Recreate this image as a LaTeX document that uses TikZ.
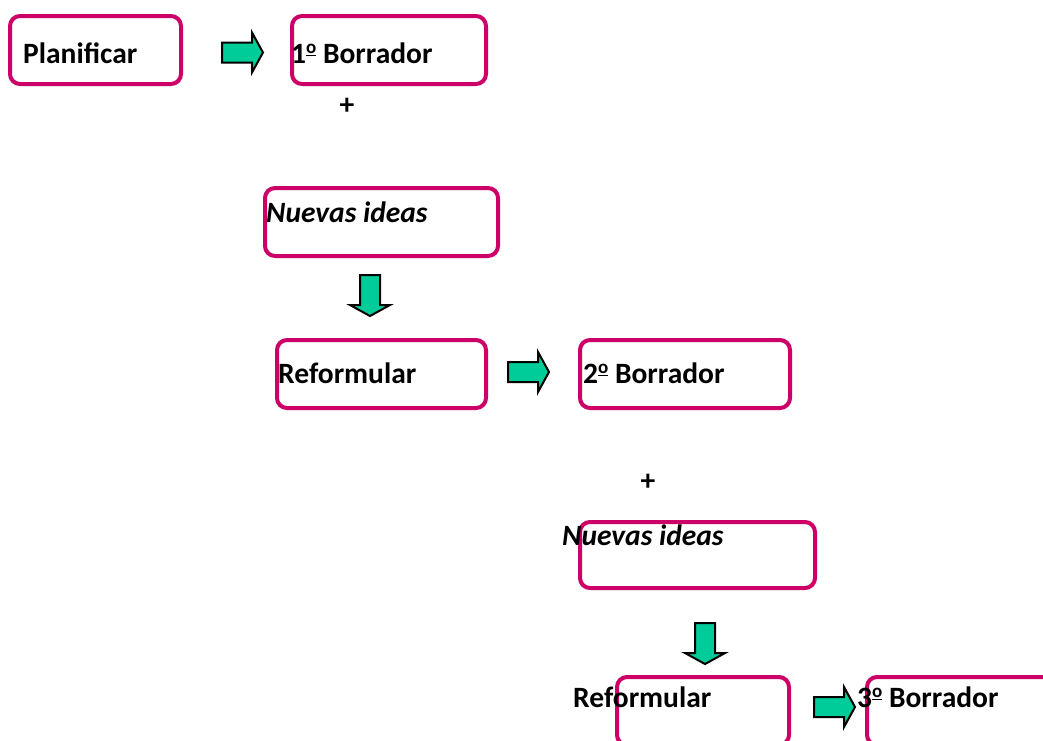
\documentclass[tikz,border=0pt]{standalone}
\usepackage{fontspec}
\setmainfont{Carlito}
\definecolor{boxpink}{RGB}{204,0,102}
\definecolor{arrowgreen}{RGB}{0,204,153}
\newcommand{\ordo}{\raisebox{0.33em}{\fontsize{19}{19}\selectfont\bfseries\underline{o}}}
\begin{document}
\begin{tikzpicture}[x=1pt,y=-1pt,
                    box/.style = {draw=boxpink,line width=4pt,rounded corners=10pt,minimum height=68pt,inner sep=0pt,outer sep=0pt,anchor=north west},
                    word/.style = {font=\fontsize{29.5}{34}\selectfont\bfseries,anchor=base west,inner sep=0pt},
                    blockarrow/.pic = {\filldraw[fill=arrowgreen,draw=black,line width=2pt] (0,-10) -- (30,-10) -- (30,-20) -- (41,0) -- (30,20) -- (30,10) -- (0,10) -- cycle;}]
                    \useasboundingbox (0,0) rectangle (1043,740);

                    \node[box,minimum width=171pt] (plan) at (10,16) {};
                    \node[box,minimum width=194pt] (bor1) at (292,16) {};
                    \node[box,minimum width=233pt] (ideas1) at (265,188) {};
                    \node[box,minimum width=209pt] (ref1) at (277,340) {};
                    \node[box,minimum width=210pt] (bor2) at (580,340) {};
                    \node[box,minimum width=235pt,minimum height=66pt] (ideas2) at (580,522) {};
                    \node[box,minimum width=172pt] (ref2) at (617,677) {};
                    \node[box,minimum width=190pt] (bor3) at (867,677) {};

                    \pic at (222,52.5) {blockarrow};
                    \pic[rotate=-90] at (370,275) {blockarrow};
                    \pic at (508,372) {blockarrow};
                    \pic[rotate=-90] at (705,623) {blockarrow};
                    \pic at (814,707) {blockarrow};

                    \node[word] (plantext) at (23,63) {Planificar};
                    \node[word] (bor1text) at (291,63) {1\ordo\ Borrador};
                    \node[word,anchor=center] (plus1) at (347,106) {+};
                    \node[word] (ideas1text) at (266,222) {\itshape Nuevas ideas};
                    \node[word] (ref1text) at (278,383) {Reformular};
                    \node[word] (bor2text) at (583,383) {2\ordo\ Borrador};
                    \node[word,anchor=center] (plus2) at (648,482) {+};
                    \node[word] (ideas2text) at (562,545) {\itshape Nuevas ideas};
                    \node[word] (ref2text) at (573,707) {Reformular};
                    \node[word] (bor3text) at (857,707) {3\ordo\ Borrador};
                \end{tikzpicture}
\end{document}
